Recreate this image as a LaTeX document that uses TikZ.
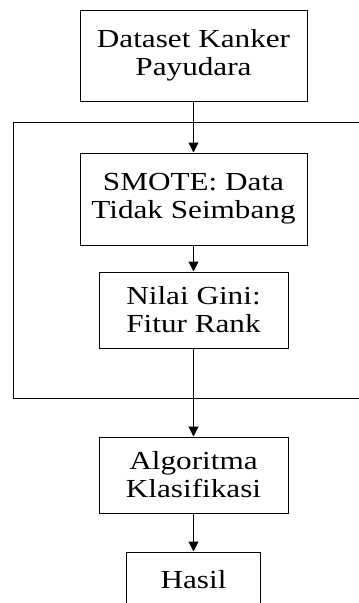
\documentclass[tikz,border=0pt]{standalone}
\usepackage{fontspec}
\setmainfont[FakeStretch=1.2]{Liberation Serif}
\usepackage{tikz}
\usetikzlibrary{arrows.meta}

\tikzset{
  box/.style={draw, line width=1pt, align=center, inner sep=0pt,
    font=\fontsize{26}{28}\selectfont},
  flow/.style={line width=1pt, -{Triangle[length=10pt,width=10pt]}}
}

\begin{document}
\begin{tikzpicture}[x=1pt, y=-1pt]
            \useasboundingbox (0, 0) rectangle (359, 603);

            % frame round the preprocessing steps
            \draw[line width=1pt] (13, 122) rectangle (380, 398);

            \node[box, minimum width=227pt, minimum height=91pt] (dataset) at (193.5, 55.5)
                {Dataset Kanker\\Payudara};
            \node[box, minimum width=227pt, minimum height=92pt] (smote) at (193.5, 199)
                {SMOTE: Data\\Tidak Seimbang};
            \node[box, minimum width=189pt, minimum height=76pt] (gini) at (193.5, 310)
                {Nilai Gini:\\Fitur Rank};
            \node[box, minimum width=189pt, minimum height=76pt] (algoritma) at (193.5, 475)
                {Algoritma\\Klasifikasi};
            \node[box, minimum width=134pt, minimum height=56pt] (hasil) at (193.5, 580)
                {Hasil};

            \draw[flow] (dataset) -- (smote);
            \draw[flow] (smote) -- (gini);
            \draw[flow] (gini) -- (algoritma);
            \draw[flow] (algoritma) -- (hasil);
        \end{tikzpicture}
\end{document}
